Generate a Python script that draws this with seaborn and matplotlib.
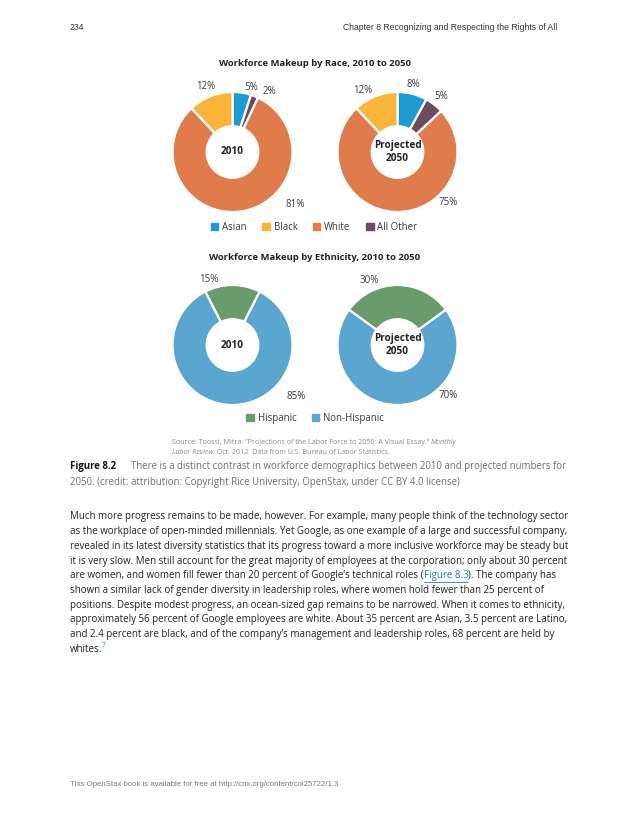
import numpy as np
import matplotlib
matplotlib.use('Agg')
import matplotlib.pyplot as plt
from matplotlib.patches import Patch
from matplotlib.lines import Line2D
import seaborn as sns

# ---- data ----
# race wedges, clockwise from 12 o'clock
race_cats = ['Asian', 'All Other', 'White', 'Black']
race_2010 = [5, 2, 81, 12]
race_2050 = [8, 5, 75, 12]
race_legend = ['Asian', 'Black', 'White', 'All Other']

# ethnicity wedges, first one centred on top
eth_cats = ['Hispanic', 'Non-Hispanic']
eth_2010 = [15, 85]
eth_2050 = [30, 70]

center_2010 = '2010'
center_2050 = 'Projected\n2050'

race_title = 'Workforce Makeup by Race, 2010 to 2050'
eth_title = 'Workforce Makeup by Ethnicity, 2010 to 2050'

body_lines = [
    'Much more progress remains to be made, however. For example, many people think of the technology sector',
    'as the workplace of open-minded millennials. Yet Google, as one example of a large and successful company,',
    'revealed in its latest diversity statistics that its progress toward a more inclusive workforce may be steady but',
    'it is very slow. Men still account for the great majority of employees at the corporation; only about 30 percent',
    None,  # line with the link, drawn in pieces
    'shown a similar lack of gender diversity in leadership roles, where women hold fewer than 25 percent of',
    'positions. Despite modest progress, an ocean-sized gap remains to be narrowed. When it comes to ethnicity,',
    'approximately 56 percent of Google employees are white. About 35 percent are Asian, 3.5 percent are Latino,',
    'and 2.4 percent are black, and of the company\u2019s management and leadership roles, 68 percent are held by',
    None,
]
link_line = ['are women, and women fill fewer than 20 percent of Google\u2019s technical roles (',
             'Figure 8.3', '). The company has']

# ---- styles ----
colors = {'Asian': '#1b9bd1', 'Black': '#fab43a', 'White': '#e07c4b', 'All Other': '#6c4a60',
          'Hispanic': '#6a9b6d', 'Non-Hispanic': '#5ba6cf'}
TXT = '#3a3a3a'
GRAY = '#6f6f6f'
LINK = '#1e7fb8'

W, H = 630, 815
R_PX = 60  # outer radius of the donuts in pixels

sns.set_theme(style='white')
plt.rcParams['font.family'] = ['Open Sans', 'Noto Sans', 'DejaVu Sans']

fig = plt.figure(figsize=(W / 100, H / 100), dpi=100)
fig.patch.set_facecolor('white')


def fx(x):
    return x / W


def fy(y):
    return 1 - y / H


def donut(cx, cy, cats, vals, start, center_text, label_pos):
    half = 100
    ax = fig.add_axes([fx(cx - half), fy(cy + half), 2 * half / W, 2 * half / H])
    wedges, _ = ax.pie(vals, colors=[colors[c] for c in cats], startangle=start,
                       counterclock=False, radius=1,
                       wedgeprops=dict(width=0.57, edgecolor='white', linewidth=1.6))
    lim = half / R_PX
    ax.set_xlim(-lim, lim)
    ax.set_ylim(-lim, lim)
    ax.set_aspect('equal')
    ax.axis('off')
    ax.text(0, 0, center_text, ha='center', va='center', fontsize=7.2,
            fontweight='bold', color='#222222', linespacing=1.15)
    for v, (ang, r) in zip(vals, label_pos):
        a = np.deg2rad(ang)
        ax.text(r * np.cos(a), r * np.sin(a), f'{v}%', ha='center', va='center',
                fontsize=7, color=TXT)
    return wedges


# race donuts (label angle, radius)
donut(232.5, 152, race_cats, race_2010, 90, center_2010,
      [(74, 1.12), (59, 1.18), (-40, 1.36), (112, 1.18)])
donut(397.5, 152, race_cats, race_2050, 90, center_2050,
      [(77, 1.15), (52, 1.18), (-45, 1.2), (119, 1.18)])

# ethnicity donuts
donut(232.5, 345, eth_cats, eth_2010, 90 + eth_2010[0] * 1.8, center_2010,
      [(110, 1.17), (-39, 1.37)])
donut(397.5, 345, eth_cats, eth_2050, 90 + eth_2050[0] * 1.8, center_2050,
      [(114, 1.17), (-45, 1.2)])

# titles
fig.text(fx(315), fy(63), race_title, ha='center', va='center', fontsize=6.8,
         fontweight='bold', color='#222222')
fig.text(fx(315), fy(257), eth_title, ha='center', va='center', fontsize=6.8,
         fontweight='bold', color='#222222')

# legends
leg_kw = dict(loc='center', ncol=4, frameon=False, fontsize=6.9, handlelength=0.8,
              handleheight=0.8, handletextpad=0.4, columnspacing=1.6, labelcolor=TXT)
fig.legend(handles=[Patch(color=colors[c]) for c in race_legend], labels=race_legend,
           bbox_to_anchor=(fx(314), fy(227)), **leg_kw)
fig.legend(handles=[Patch(color=colors[c]) for c in eth_cats], labels=eth_cats,
           bbox_to_anchor=(fx(315), fy(418)), **leg_kw)

renderer = fig.canvas.get_renderer()


def runs(x, y, parts, **kw):
    """Draw text pieces one after another; returns list of text objects."""
    out = []
    for txt, style in parts:
        t = fig.text(fx(x), fy(y), txt, va='center', ha='left', **{**kw, **style})
        bb = t.get_window_extent(renderer)
        x = x + bb.width
        out.append(t)
    return out


# source
src_kw = dict(fontsize=5.1, color='#8a8a8a')
runs(172, 442, [('Source: Toossi, Mitra. \u201cProjections of the Labor Force to 2050: A Visual Essay.\u201d ', {}),
                ('Monthly', {'style': 'italic'})], **src_kw)
runs(172, 452, [('Labor Review.', {'style': 'italic'}),
                (' Oct. 2012. Data from U.S. Bureau of Labor Statistics.', {})], **src_kw)

# caption
cap_kw = dict(fontsize=6.95)
fig.text(fx(70), fy(467), 'Figure 8.2', fontweight='bold', color='#111111', va='center', **cap_kw)
fig.text(fx(131), fy(467), 'There is a distinct contrast in workforce demographics between 2010 and projected numbers for',
         color=GRAY, va='center', **cap_kw)
fig.text(fx(70), fy(482), '2050. (credit: attribution: Copyright Rice University, OpenStax, under CC BY 4.0 license)',
         color=GRAY, va='center', **cap_kw)

# body text
body_kw = dict(fontsize=7.0, color='#222222')
for i, line in enumerate(body_lines):
    y = 517 + i * 14.7
    if line is not None:
        fig.text(fx(70), fy(y), line, va='center', **body_kw)
    elif i == 4:
        ts = runs(70, y, [(link_line[0], {}), (link_line[1], {'color': LINK}),
                          (link_line[2], {})], **body_kw)
        bb = ts[1].get_window_extent(renderer)
        fig.add_artist(Line2D([bb.x0 / W, bb.x1 / W], [fy(y + 6.5)] * 2,
                              color=LINK, lw=0.6, transform=fig.transFigure))
    else:
        ts = runs(70, y, [('whites.', {})], **body_kw)
        bb = ts[0].get_window_extent(renderer)
        fig.text(bb.x1 / W - 0.001, fy(y - 4), '7', fontsize=4.8, color=LINK, va='center')

# page header / footer
hf = ['Liberation Sans', 'DejaVu Sans']
fig.text(fx(70), fy(27), '234', family=hf, fontsize=6.2, color='#333333', va='center')
fig.text(fx(557), fy(27), 'Chapter 8 Recognizing and Respecting the Rights of All', family=hf,
         fontsize=6.2, color='#333333', va='center', ha='right')
fig.text(fx(70), fy(785), 'This OpenStax book is available for free at http://cnx.org/content/col25722/1.3',
         family=hf, fontsize=5.6, color='#7a7a7a', va='center')

fig.savefig('out.png', dpi=100, facecolor='white')
